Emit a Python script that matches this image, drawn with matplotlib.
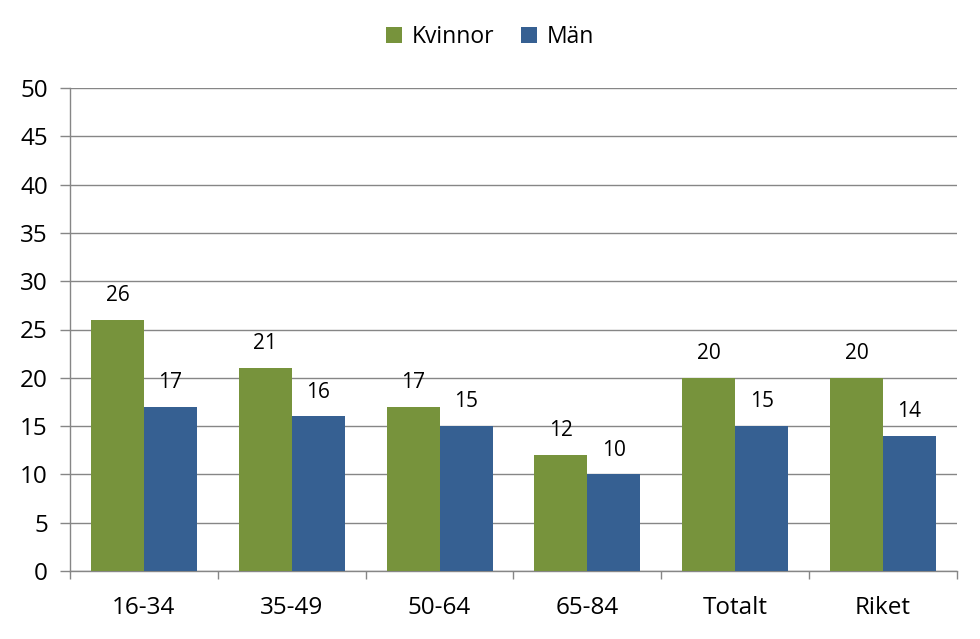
import matplotlib
matplotlib.use("Agg")
import matplotlib.pyplot as plt
import numpy as np

categories = ["16-34", "35-49", "50-64", "65-84", "Totalt", "Riket"]
kvinnor = [26, 21, 17, 12, 20, 20]
man = [17, 16, 15, 10, 15, 14]
series_names = ["Kvinnor", "Män"]
colors = ["#77933C", "#366092"]

plt.rcParams['font.family'] = ['Open Sans', 'DejaVu Sans']

fig = plt.figure(figsize=(9.8, 6.39), dpi=100)
ax = fig.add_axes([70/980, 1-571/639, (957-70)/980, (571-88)/639])

x = np.arange(len(categories))
w = 0.358
b1 = ax.bar(x - w/2, kvinnor, w, color=colors[0], label=series_names[0], zorder=3)
b2 = ax.bar(x + w/2, man, w, color=colors[1], label=series_names[1], zorder=3)

for bars, vals in ((b1, kvinnor), (b2, man)):
    for r, v in zip(bars, vals):
        ax.annotate(str(v), (r.get_x() + r.get_width()/2, v), xytext=(0, 10),
                    textcoords="offset points", ha="center", va="bottom", fontsize=15)

gc = "#868686"
ax.set_ylim(0, 50)
ax.set_xlim(-0.5, len(categories) - 0.5)
ax.set_yticks(np.arange(0, 51, 5))
ax.yaxis.grid(True, color=gc, linewidth=1, zorder=0)
ax.set_axisbelow(True)
for s in ["top", "right"]:
    ax.spines[s].set_visible(False)
for s in ["left", "bottom"]:
    ax.spines[s].set_color(gc)
    ax.spines[s].set_linewidth(1)

ax.set_xticks(x)
ax.set_xticklabels(categories)
ax.set_xticks(np.arange(-0.5, len(categories), 1), minor=True)
ax.tick_params(axis="x", which="major", length=0, pad=18, labelsize=17.5)
ax.tick_params(axis="x", which="minor", length=6, color=gc, width=1)
ax.tick_params(axis="y", length=7, color=gc, width=1, pad=9, labelsize=17.5)

fig.legend(handles=[b1, b2], labels=series_names, loc="center", bbox_to_anchor=(0.5, 1-37/639),
           ncol=2, frameon=False, fontsize=16.5, handlelength=0.7, handleheight=0.7,
           handletextpad=0.4, columnspacing=1.2)

fig.savefig("out.png", dpi=100)
